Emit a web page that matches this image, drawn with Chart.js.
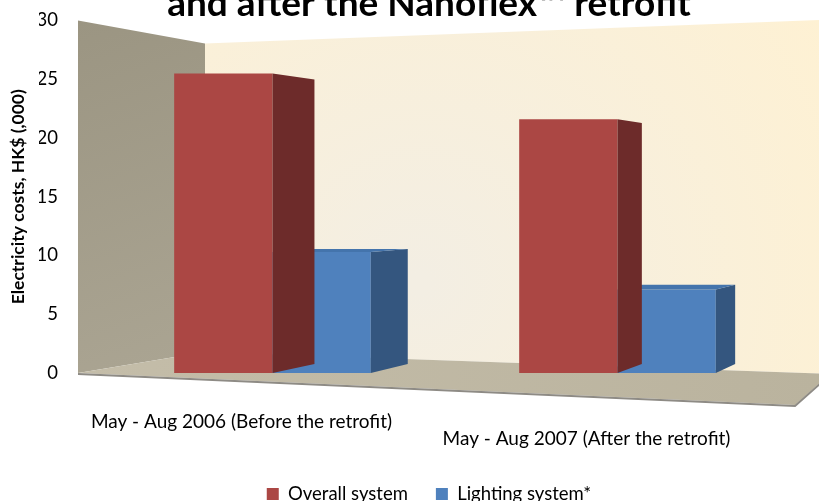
<!DOCTYPE html>
<html><head><meta charset="utf-8">
<script src="https://cdn.jsdelivr.net/npm/chart.js@4.4.1/dist/chart.umd.min.js"></script>
<style>
html,body{margin:0;padding:0;background:#fff;overflow:hidden;}
#c{display:block;}
</style></head><body>
<canvas id="c" width="819" height="501"></canvas>
<script>
// ---- data ----
const categories = ['May - Aug 2006 (Before the retrofit)', 'May - Aug 2007 (After the retrofit)'];
const seriesNames = ['Overall system', 'Lighting system*'];
const overallSystem = [25.5, 21.6];
const lightingSystem = [10.3, 7.1];
const yMin = 0, yMax = 30, yStep = 5;
const titleText = 'and after the Nanoflex\u2122 retrofit';
const yAxisTitle = 'Electricity costs, HK$ (,000)';

// ---- styling ----
const frontColors = ['#AB4744', '#4F81BD'];
const sideColors = ['#6D2B2A', '#34567F'];
const topColors = ['#8E3936', '#4474AC'];
const VPX = 1.442, VPY = 0.496, K = 0.051; // perspective vanishing point (fractions of plot area)

function poly(ctx, pts, fill) {
  ctx.beginPath();
  ctx.moveTo(pts[0][0], pts[0][1]);
  for (let i = 1; i < pts.length; i++) ctx.lineTo(pts[i][0], pts[i][1]);
  ctx.closePath();
  ctx.fillStyle = fill;
  ctx.fill();
}

const depth3d = {
  id: 'depth3d',
  beforeDraw(chart) {
    const ctx = chart.ctx, ca = chart.chartArea;
    const L = ca.left, T = ca.top, B = ca.bottom, R = ca.right;
    ctx.save();
    // left wall
    const lw = ctx.createLinearGradient(L - 22, T, L + 105, B);
    lw.addColorStop(0, '#9B9582');
    lw.addColorStop(1, '#ABA593');
    poly(ctx, [[L - 22, T], [L + 105, T + 23], [L + 105, B - 21], [L - 22, B]], lw);
    // back wall
    const bw = ctx.createRadialGradient(L + 320, B - 90, 10, L + 320, B - 90, 480);
    bw.addColorStop(0, '#F3EEE3');
    bw.addColorStop(1, '#FEF1D3');
    poly(ctx, [[L + 105, T + 23], [R + 40, T - 1], [R + 40, B + 1], [L + 105, B - 21]], bw);
    // floor
    const fl = ctx.createLinearGradient(L - 22, B, R + 29, B);
    fl.addColorStop(0, '#C4BDA9');
    fl.addColorStop(1, '#BAB39E');
    poly(ctx, [[L - 22, B], [L + 695, B + 32], [R + 40, B + 1], [L + 105, B - 21]], fl);
    // floor edge
    ctx.beginPath();
    ctx.moveTo(L - 22, B + 1);
    ctx.lineTo(L + 695, B + 33);
    ctx.lineTo(R + 40, B + 2);
    ctx.strokeStyle = '#8E8B85';
    ctx.lineWidth = 2;
    ctx.stroke();
    ctx.restore();
  },
  afterDatasetDraw(chart, args) {
    const ctx = chart.ctx, ca = chart.chartArea;
    const W = ca.right - ca.left, H = ca.bottom - ca.top;
    const vx = ca.left + VPX * W, vy = ca.top + VPY * H;
    const bk = (px, py) => [px + K * (vx - px), py + K * (vy - py)];
    const i = args.index;
    ctx.save();
    args.meta.data.forEach(bar => {
      const p = bar.getProps(['x', 'y', 'base', 'width'], true);
      const xl = p.x - p.width / 2, xr = p.x + p.width / 2;
      poly(ctx, [[xr, p.y], bk(xr, p.y), bk(xr, p.base), [xr, p.base]], sideColors[i]);
      if (p.y > vy) {
        poly(ctx, [[xl, p.y], [xr, p.y], bk(xr, p.y), bk(xl, p.y)], topColors[i]);
      }
    });
    ctx.restore();
  }
};

Chart.defaults.font.family = 'Lato, "Open Sans", sans-serif';
Chart.defaults.color = '#000';

const labels = categories.map((c, i) => (i % 2 ? ['', c] : [c]));

new Chart(document.getElementById('c'), {
  type: 'bar',
  data: {
    labels: labels,
    datasets: [
      { label: seriesNames[0], data: overallSystem, backgroundColor: frontColors[0], borderWidth: 0 },
      { label: seriesNames[1], data: lightingSystem, backgroundColor: frontColors[1], borderWidth: 0 }
    ]
  },
  options: {
    responsive: false,
    animation: false,
    devicePixelRatio: 1,
    categoryPercentage: 0.57,
    barPercentage: 1,
    layout: { padding: { left: 39, right: 0, top: -12.5, bottom: -12.25 } },
    plugins: {
      title: { display: true, text: titleText, font: { size: 37, weight: 'bold', lineHeight: 0.892 }, padding: 0, color: '#000' },
      legend: { position: 'bottom', labels: { boxWidth: 12, boxHeight: 12, padding: 28, font: { size: 18.5 }, color: '#000' } },
      tooltip: { enabled: false }
    },
    scales: {
      x: {
        grid: { display: false, drawTicks: false },
        border: { display: false },
        ticks: { padding: 40.5, labelOffset: -31, font: { size: 19, lineHeight: 0.88 }, maxRotation: 0, autoSkip: false, color: '#000' },
        afterFit: s => { s.height = 83.75; s.paddingTop = 0; s.paddingBottom = 0; }
      },
      y: {
        min: yMin, max: yMax,
        ticks: { stepSize: yStep, padding: 42, font: { size: 18.5 }, color: '#000' },
        grid: { display: false, drawTicks: false },
        border: { display: false },
        title: { display: true, text: yAxisTitle, font: { size: 17.5, weight: 'bold' }, padding: { top: -31.5, bottom: 0 }, color: '#000' },
        afterFit: s => { s.width = 61; s.paddingTop = 0; s.paddingBottom = 0; }
      },
      yR: {
        position: 'right',
        grid: { display: false, drawTicks: false },
        border: { display: false },
        ticks: { display: false },
        afterFit: s => { s.width = 29; s.paddingTop = 0; s.paddingBottom = 0; }
      }
    }
  },
  plugins: [depth3d]
});
</script>
</body></html>
